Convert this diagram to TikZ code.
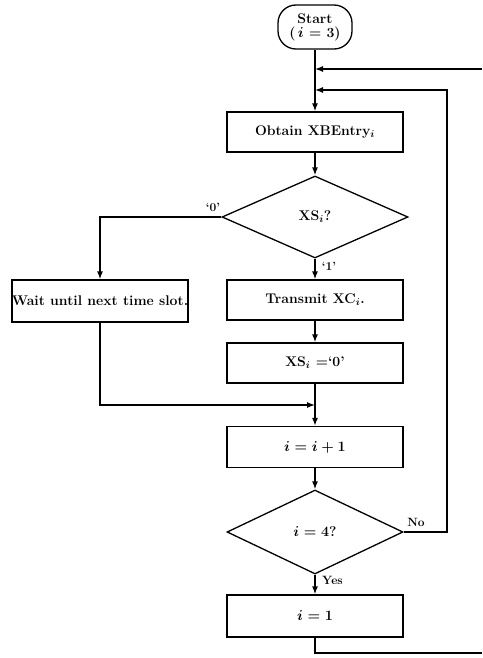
\documentclass[tikz,border=0pt]{standalone}
\usetikzlibrary{shapes.geometric,arrows.meta}
\begin{document}
\begin{tikzpicture}[x=1pt,y=-1pt,
  font=\fontsize{14}{16}\selectfont\bfseries\boldmath,
  every node/.append style={inner sep=0pt},
  flow/.style={line width=1.3pt},
  arr/.style={flow,-{Latex[length=8pt,width=6pt]}},
  procbox/.style={draw,line width=1.3pt,minimum width=176pt,minimum height=40pt},
  decision/.style={draw,diamond,line width=1.3pt,minimum width=178pt,minimum height=82pt},
  terminal/.style={draw,line width=1.3pt,rounded corners=18pt,minimum width=74pt,minimum height=44pt,align=center},
  tag/.style={font=\fontsize{12}{14}\selectfont\bfseries}]
\useasboundingbox (0,0) rectangle (482,658);

% steps of the flow
\node[terminal] (start) at (315,27) {Start\\[-2pt](\,$i$ = 3)};
\node[procbox] (obtain) at (315,132) {Obtain XBEntry$_i$};
\node[decision,minimum width=186pt] (xs) at (315,217) {XS$_i$?};
\node[procbox,minimum width=174pt,minimum height=42pt] (wait) at (100,301) {Wait until next time slot.};
\node[procbox] (transmit) at (315,300) {Transmit XC$_i$.};
\node[procbox] (xsset) at (315,363) {XS$_i$ =`0'};
\node[procbox,minimum height=41pt] (inc) at (315,447) {$i = i + 1$};
\node[decision,minimum width=176pt,minimum height=84pt] (test) at (315,532) {$i = 4$?};
\node[procbox,minimum height=42pt] (iset) at (315,616) {$i = 1$};

% junctions on the main line and off-page ends
\coordinate (jtop) at (315,69);
\coordinate (jloop) at (315,90);
\coordinate (jmerge) at (315,405);
\coordinate (inEdge) at (482,69);
\coordinate (loopCorner) at (447,532);
\coordinate (iBottom) at (315,653);
\coordinate (outEdge) at (482,653);

% connectors
\draw[arr] (start.south) -- (obtain.north);
\draw[arr] (inEdge) -- (jtop);
\draw[arr] (test.east) -- (loopCorner) |- (jloop);
\draw[arr] (obtain.south) -- (xs.north);
\draw[arr] (xs.west) -| (wait.north);
\draw[arr] (xs.south) -- (transmit.north);
\draw[arr] (transmit.south) -- (xsset.north);
\draw[arr] (xsset.south) -- (inc.north);
\draw[arr] (wait.south) |- (jmerge);
\draw[arr] (inc.south) -- (test.north);
\draw[arr] (test.south) -- (iset.north);
\draw[flow] (iset.south) -- (iBottom) -- (outEdge);

% branch labels
\node[tag] (lzero) at (213,207) {`0'};
\node[tag] (lone) at (329,266) {`1'};
\node[tag] (lno) at (416,522) {No};
\node[tag,anchor=west] (lyes) at (322,580) {Yes};
\end{tikzpicture}
\end{document}
